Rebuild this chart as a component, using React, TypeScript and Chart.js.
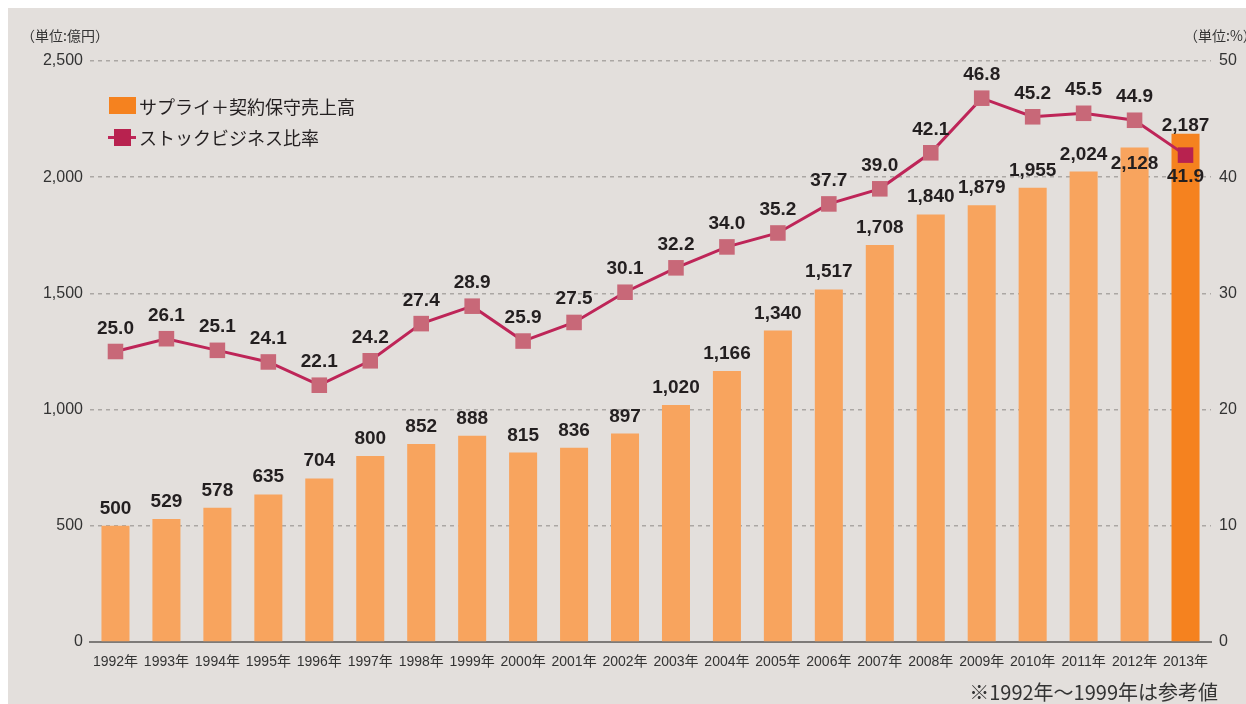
import React, { useEffect, useRef } from "react";
import { Chart, registerables } from "chart.js";

Chart.register(...registerables);

const years = [
  "1992年", "1993年", "1994年", "1995年", "1996年", "1997年", "1998年", "1999年",
  "2000年", "2001年", "2002年", "2003年", "2004年", "2005年", "2006年", "2007年",
  "2008年", "2009年", "2010年", "2011年", "2012年", "2013年",
];

const sales = [
  500, 529, 578, 635, 704, 800, 852, 888, 815, 836, 897, 1020,
  1166, 1340, 1517, 1708, 1840, 1879, 1955, 2024, 2128, 2187,
];

const stockRatio = [
  25.0, 26.1, 25.1, 24.1, 22.1, 24.2, 27.4, 28.9, 25.9, 27.5, 30.1, 32.2,
  34.0, 35.2, 37.7, 39.0, 42.1, 46.8, 45.2, 45.5, 44.9, 41.9,
];

const leftTicks = [0, 500, 1000, 1500, 2000, 2500];
const rightTicks = [0, 10, 20, 30, 40, 50];

const seriesNames = ["サプライ＋契約保守売上高", "ストックビジネス比率"];

const LAST = sales.length - 1;
const BAR_COLOR = "#F8A45E";
const BAR_LAST = "#F5821F";
const LINE_COLOR = "#BE2558";
const MARK_COLOR = "#C86878";
const MARK_LAST = "#B8224F";
const BG = "#E3DFDC";
const TEXT = "#231F20";
const LATIN = "'Liberation Sans', Arial, 'Noto Sans CJK JP', sans-serif";
const CJK = "'Noto Sans CJK JP', 'Liberation Sans', sans-serif";

const valueLabels = {
  id: "valueLabels",
  afterDatasetsDraw(chart: any) {
    const ctx = chart.ctx;
    ctx.save();
    ctx.font = `bold 19px ${LATIN}`;
    ctx.fillStyle = TEXT;
    ctx.textAlign = "center";
    ctx.textBaseline = "alphabetic";
    const barMeta = chart.getDatasetMeta(0);
    barMeta.data.forEach((el: any, i: number) => {
      const txt = sales[i].toLocaleString("en-US");
      let y = el.y - 12;
      if (i === LAST - 1) y = el.y + 22; // label sits inside the bar to avoid the line
      else if (i === LAST) y = el.y - 3;
      ctx.fillText(txt, el.x, y);
    });
    const lineMeta = chart.getDatasetMeta(1);
    lineMeta.data.forEach((el: any, i: number) => {
      const txt = stockRatio[i].toFixed(1);
      let y = el.y - 18;
      if (i === LAST) y = el.y + 27;
      ctx.fillText(txt, el.x, y);
    });
    ctx.restore();
  },
};

export default function App() {
  const canvasRef = useRef<HTMLCanvasElement | null>(null);

  useEffect(() => {
    if (!canvasRef.current) return;
    const chart = new Chart(canvasRef.current, {
      type: "bar",
      data: {
        labels: years,
        datasets: [
          {
            type: "bar",
            label: seriesNames[0],
            data: sales,
            yAxisID: "y",
            order: 1,
            backgroundColor: (c: any) => (c.dataIndex === LAST ? BAR_LAST : BAR_COLOR),
            borderWidth: 0,
            barPercentage: 0.55,
            categoryPercentage: 1,
          },
          {
            type: "line",
            label: seriesNames[1],
            data: stockRatio,
            yAxisID: "y1",
            order: 0,
            borderColor: LINE_COLOR,
            borderWidth: 3,
            tension: 0,
            pointStyle: "rect",
            pointRadius: 11,
            pointBorderWidth: 0,
            pointBackgroundColor: (c: any) => (c.dataIndex === LAST ? MARK_LAST : MARK_COLOR),
            pointBorderColor: (c: any) => (c.dataIndex === LAST ? MARK_LAST : MARK_COLOR),
          },
        ],
      } as any,
      options: {
        responsive: false,
        animation: false,
        devicePixelRatio: 1,
        layout: { padding: { top: 53, left: 0, right: 0, bottom: 0 } },
        plugins: {
          legend: { display: false },
          tooltip: { enabled: false },
        },
        scales: {
          x: {
            grid: { display: false, drawTicks: false },
            border: { display: true, color: "#7D7A78", width: 2 },
            ticks: {
              autoSkip: false,
              maxRotation: 0,
              padding: 12,
              color: "#333",
              font: { size: 14, family: LATIN },
            },
            afterFit: (s: any) => {
              s.height = 62;
            },
          },
          y: {
            position: "left",
            min: 0,
            max: 2500,
            afterBuildTicks: (s: any) => {
              s.ticks = leftTicks.map((v) => ({ value: v }));
            },
            grid: { color: "#ABA7A4", lineWidth: 1.5, drawTicks: false },
            border: { display: false, dash: [4, 4] },
            ticks: {
              padding: 7,
              color: "#333",
              font: { size: 16, family: LATIN },
              callback: (v: any) => Number(v).toLocaleString("en-US"),
            },
            afterFit: (s: any) => {
              s.width = 82;
            },
          },
          y1: {
            position: "right",
            min: 0,
            max: 50,
            afterBuildTicks: (s: any) => {
              s.ticks = rightTicks.map((v) => ({ value: v }));
            },
            grid: { display: false, drawTicks: false },
            border: { display: false },
            ticks: {
              padding: 8,
              color: "#333",
              font: { size: 16, family: LATIN },
            },
            afterFit: (s: any) => {
              s.width = 35;
            },
          },
        },
      } as any,
      plugins: [valueLabels],
    });
    return () => chart.destroy();
  }, []);

  return (
    <div
      style={{
        position: "absolute",
        left: 8,
        top: 8,
        width: 1238,
        height: 696,
        background: BG,
        overflow: "hidden",
      }}
    >
      <canvas ref={canvasRef} width={1238} height={696} style={{ position: "absolute", left: 0, top: 0 }} />
      <div
        style={{
          position: "absolute",
          left: 13,
          top: 17,
          fontFamily: CJK,
          fontSize: 14,
          lineHeight: "20px",
          color: "#333",
          whiteSpace: "nowrap",
        }}
      >
        （単位:億円）
      </div>
      <div
        style={{
          position: "absolute",
          left: 1176,
          top: 17,
          fontFamily: CJK,
          fontSize: 14,
          lineHeight: "20px",
          color: "#333",
          whiteSpace: "nowrap",
        }}
      >
        （単位:%）
      </div>
      <div style={{ position: "absolute", left: 101, top: 89, width: 27, height: 17, background: BAR_LAST }} />
      <div
        style={{
          position: "absolute",
          left: 131,
          top: 86,
          fontFamily: CJK,
          fontSize: 18,
          lineHeight: "24px",
          color: TEXT,
          whiteSpace: "nowrap",
        }}
      >
        {seriesNames[0]}
      </div>
      <div style={{ position: "absolute", left: 100, top: 128, width: 28, height: 3, background: LINE_COLOR }} />
      <div style={{ position: "absolute", left: 106, top: 121, width: 17, height: 17, background: MARK_LAST }} />
      <div
        style={{
          position: "absolute",
          left: 131,
          top: 117,
          fontFamily: CJK,
          fontSize: 18,
          lineHeight: "24px",
          color: TEXT,
          whiteSpace: "nowrap",
        }}
      >
        {seriesNames[1]}
      </div>
      <div
        style={{
          position: "absolute",
          right: 28,
          top: 672,
          fontFamily: CJK,
          fontSize: 20,
          lineHeight: "24px",
          color: "#333",
          whiteSpace: "nowrap",
        }}
      >
        ※1992年～1999年は参考値
      </div>
    </div>
  );
}
